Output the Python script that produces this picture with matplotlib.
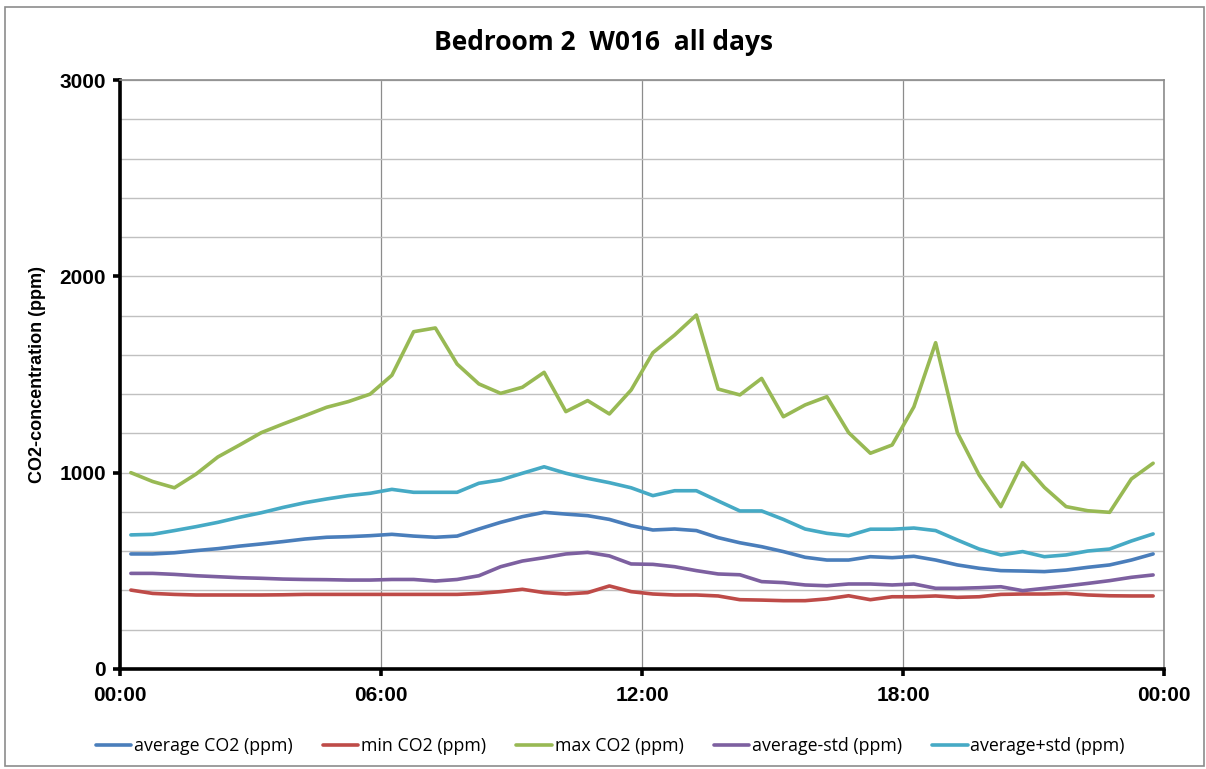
import numpy as np
import matplotlib
matplotlib.use("Agg")
from matplotlib import pyplot as plt
from matplotlib.patches import Rectangle
from matplotlib.ticker import MultipleLocator

# half-hour bins, values at the middle of each bin (00:15 ... 23:45)
hours = np.arange(48) * 0.5 + 0.25

avg_co2 = [586, 586, 592, 603, 613, 626, 637, 649, 662, 671, 674, 679,
           686, 677, 671, 677, 713, 747, 776, 798, 789, 781, 762, 730,
           708, 713, 705, 669, 643, 623, 598, 569, 555, 555, 572, 567,
           574, 555, 530, 513, 501, 499, 496, 504, 518, 530, 555, 586]
min_co2 = [402, 385, 380, 377, 377, 377, 377, 378, 380, 380, 380, 380,
           380, 380, 380, 380, 385, 394, 406, 389, 382, 389, 423, 394,
           382, 377, 377, 372, 353, 351, 348, 348, 357, 373, 353, 368,
           368, 372, 365, 368, 380, 382, 382, 385, 377, 373, 372, 372]
max_co2 = [1000, 955, 923, 993, 1080, 1141, 1204, 1248, 1290, 1333, 1362, 1400,
           1496, 1718, 1737, 1553, 1452, 1404, 1435, 1511, 1311, 1367, 1299, 1421,
           1611, 1701, 1803, 1426, 1396, 1480, 1285, 1345, 1387, 1204, 1099, 1141,
           1335, 1662, 1204, 988, 827, 1051, 925, 827, 806, 798, 968, 1048]
avg_minus_std = [487, 487, 482, 475, 470, 465, 462, 458, 456, 455, 453, 453,
                 456, 456, 448, 456, 475, 521, 550, 567, 586, 594, 576, 535,
                 533, 521, 501, 484, 480, 445, 440, 428, 424, 433, 433, 428,
                 433, 411, 411, 414, 419, 399, 411, 423, 436, 450, 467, 479]
avg_plus_std = [683, 686, 705, 725, 747, 773, 796, 823, 847, 866, 883, 895,
                915, 900, 900, 900, 946, 963, 997, 1030, 997, 971, 949, 923,
                883, 908, 908, 856, 805, 805, 762, 713, 691, 679, 712, 712,
                718, 705, 657, 611, 581, 598, 572, 581, 601, 611, 652, 688]

series = [
    ("average CO2 (ppm)", avg_co2, "#4a7ebb"),
    ("min CO2 (ppm)", min_co2, "#be4b48"),
    ("max CO2 (ppm)", max_co2, "#98b954"),
    ("average-std (ppm)", avg_minus_std, "#7d60a0"),
    ("average+std (ppm)", avg_plus_std, "#46aac5"),
]
xtick_pos = [0, 6, 12, 18, 24]
xtick_labels = ["00:00", "06:00", "12:00", "18:00", "00:00"]

W, H = 1206, 769
fig = plt.figure(figsize=(W / 100, H / 100), dpi=100)
ax = fig.add_axes([120 / W, 1 - 669 / H, (1164 - 120) / W, (669 - 80) / H])

# chart area border
fig.patches.append(Rectangle((5 / W, 1 - 766 / H), 1199 / W, 759 / H,
                             transform=fig.transFigure, fill=False,
                             edgecolor="#8c8c8c", linewidth=1.2))

for label, vals, color in series:
    ax.plot(hours, vals, color=color, linewidth=2.6, label=label,
            solid_joinstyle="round", solid_capstyle="round")

ax.set_xlim(0, 24)
ax.set_ylim(0, 3000)
ax.set_xticks(xtick_pos)
ax.set_xticklabels(xtick_labels)
ax.set_yticks([0, 1000, 2000, 3000])
ax.yaxis.set_minor_locator(MultipleLocator(200))

ax.grid(axis="y", which="both", color="#c0c0c0", linewidth=1.0)
ax.grid(axis="x", which="major", color="#8c8c8c", linewidth=0.9)
ax.set_axisbelow(True)

for side in ("left", "bottom"):
    ax.spines[side].set_linewidth(2.6)
    ax.spines[side].set_color("black")
for side in ("top", "right"):
    ax.spines[side].set_linewidth(1.2)
    ax.spines[side].set_color("#8c8c8c")

ax.tick_params(axis="both", which="major", direction="out", length=5,
               width=2.6, color="black", pad=6)
ax.tick_params(axis="y", which="minor", length=0)
for t in ax.get_xticklabels() + ax.get_yticklabels():
    t.set_fontfamily("Liberation Sans")
    t.set_fontweight("bold")
    t.set_fontsize(15)
ax.tick_params(axis="x", pad=7)
ax.tick_params(axis="y", pad=5)

ax.set_ylabel("CO2-concentration (ppm)", fontfamily="Liberation Sans",
              fontweight="bold", fontsize=13, labelpad=10)

fig.text(0.5, 1 - 42 / H, "Bedroom 2  W016  all days", ha="center",
         va="center", fontfamily="Open Sans", fontweight="bold", fontsize=19)

fig.legend(loc="center", bbox_to_anchor=(0.506, 1 - 746 / H), ncol=5,
           frameon=False, prop={"family": "Open Sans", "size": 12.8},
           handlelength=2.0, handletextpad=0.15, columnspacing=1.7)

fig.savefig("out.png", dpi=100)
